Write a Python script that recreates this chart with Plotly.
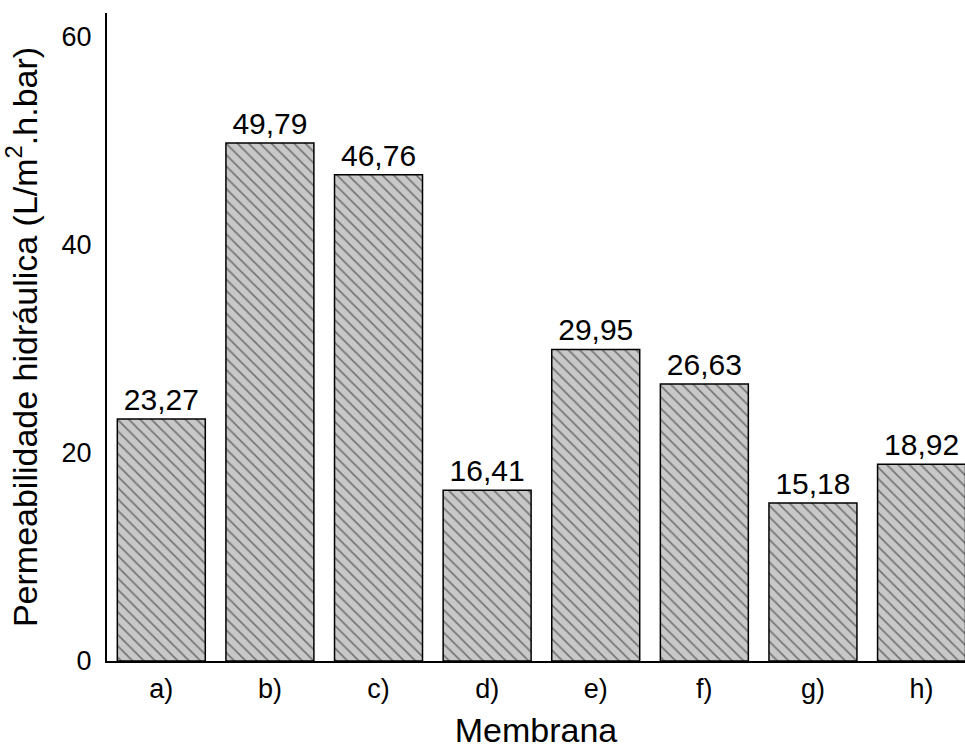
import plotly.graph_objects as go

# Membrane labels and measured hydraulic permeability (L/m².h.bar)
membranas = ["a)", "b)", "c)", "d)", "e)", "f)", "g)", "h)"]
permeabilidade = [23.27, 49.79, 46.76, 16.41, 29.95, 26.63, 15.18, 18.92]
y_ticks = [0, 20, 40, 60]

rotulos = [f"{v:.2f}".replace(".", ",") for v in permeabilidade]

FONT = "Liberation Sans, Arial, sans-serif"

fig = go.Figure(
    go.Bar(
        x=list(range(len(membranas))),
        y=permeabilidade,
        width=0.81,
        text=rotulos,
        textposition="outside",
        constraintext="none",
        textfont=dict(family=FONT, size=30, color="black"),
        cliponaxis=False,
        marker=dict(
            color="#c8c8c8",
            line=dict(color="black", width=1.5),
            pattern=dict(
                shape="\\",
                fgcolor="#222222",
                bgcolor="#c8c8c8",
                size=8,
                solidity=0.22,
            ),
        ),
        hoverinfo="skip",
    )
)

fig.update_layout(
    width=965,
    height=749,
    margin=dict(l=107, r=0, t=13, b=88),
    paper_bgcolor="white",
    plot_bgcolor="white",
    font=dict(family=FONT, color="black"),
    showlegend=False,
    bargap=0.19,
)

fig.update_xaxes(
    tickmode="array",
    tickvals=list(range(len(membranas))),
    ticktext=membranas,
    range=[-0.5, 7.4],
    showline=True,
    linecolor="black",
    linewidth=2,
    showgrid=False,
    zeroline=False,
    ticks="",
    tickfont=dict(family=FONT, size=27, color="black"),
    ticklabelstandoff=3,
    title=dict(text="Membrana", font=dict(family=FONT, size=34, color="black"), standoff=20),
)

fig.update_yaxes(
    tickmode="array",
    tickvals=y_ticks,
    ticktext=[str(t) for t in y_ticks],
    range=[0, 62.3],
    showline=True,
    linecolor="black",
    linewidth=2,
    showgrid=False,
    zeroline=False,
    ticks="",
    tickfont=dict(family=FONT, size=27, color="black"),
    ticklabelstandoff=8,
    title=dict(
        text="Permeabilidade hidráulica (L/m<sup>2</sup>.h.bar)",
        font=dict(family=FONT, size=34, color="black"),
        standoff=14,
    ),
)

fig.write_html("out.html")
